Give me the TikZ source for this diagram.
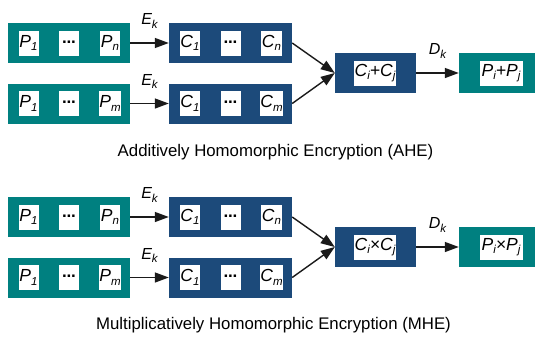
\documentclass[tikz,border=0pt]{standalone}
\usepackage{fontspec}
\setmainfont{Liberation Sans}
\usetikzlibrary{arrows.meta}
\definecolor{tealbox}{HTML}{008080}
\definecolor{navybox}{HTML}{1C4A7A}
\definecolor{inkline}{HTML}{1A1A1A}

% lowered subscript in running italic text
\newcommand\lo[1]{\raisebox{-3.3pt}{\fontsize{11.5}{11.5}\selectfont #1}}
% three heavy dots
\newcommand\dotrow{\raisebox{2.5pt}{\upshape\bfseries\fontsize{17}{17}\selectfont .\kern-0.3pt.\kern-0.3pt.}}

\begin{document}
\begin{tikzpicture}[x=1pt,y=-1pt,
  plainbox/.style={fill=tealbox, minimum height=40pt, inner sep=0pt},
  cipherbox/.style={fill=navybox, minimum height=40pt, inner sep=0pt},
  cell/.style={fill=white, minimum width=20pt, minimum height=25pt, inner sep=0.5pt,
               font=\fontsize{17.5}{17.5}\selectfont\itshape},
  flow/.style={line width=1.4pt, draw=inkline,
               -{Triangle[length=14pt,width=10pt]}},
  keylabel/.style={font=\fontsize{16}{16}\selectfont\itshape, inner sep=0pt},
  caption/.style={font=\fontsize{16.8}{16.8}\selectfont, inner sep=0pt}
]
\useasboundingbox (0,0) rectangle (536,340);

% ---------------- additive scheme ----------------
\node[plainbox, minimum width=122pt] (ap) at (69,43) {};
\node[cell] (ap1) at (28.5,43) {P\lo{1}};
\node[cell] (apd) at (69,43) {\dotrow};
\node[cell] (apn) at (110,43) {P\lo{n}};

\node[cipherbox, minimum width=123pt] (ac) at (230.5,43) {};
\node[cell] (ac1) at (190,43) {C\lo{1}};
\node[cell] (acd) at (230.5,43) {\dotrow};
\node[cell] (acn) at (271.5,43) {C\lo{n}};

\node[plainbox, minimum width=122pt] (aq) at (69,103.5) {};
\node[cell] (aq1) at (28.5,103.5) {P\lo{1}};
\node[cell] (aqd) at (69,103.5) {\dotrow};
\node[cell] (aqm) at (110,103.5) {P\lo{m}};

\node[cipherbox, minimum width=123pt] (ad) at (230.5,103.5) {};
\node[cell] (ad1) at (190,103.5) {C\lo{1}};
\node[cell] (add) at (230.5,103.5) {\dotrow};
\node[cell] (adm) at (271.5,103.5) {C\lo{m}};

\node[cipherbox, minimum width=81pt] (asum) at (375.5,73) {};
\node[cell, minimum width=42pt] (asumt) at (375,73) {C\lo{i}+C\lo{j}};

\node[plainbox, minimum width=76pt] (ares) at (497,73) {};
\node[cell, minimum width=43pt] (arest) at (501,73) {P\lo{i}+P\lo{j}};

\draw[flow] (ap) -- node[keylabel, midway, yshift=22pt] {E\lo{k}} (ac);
\draw[flow] (aq) -- node[keylabel, midway, yshift=22pt] {E\lo{k}} (ad);
\draw[flow] (ac.east) -- (asum.west);
\draw[flow] (ad.east) -- (asum.west);
\draw[flow] (asum) -- node[keylabel, midway, yshift=22pt] {D\lo{k}} (ares);

\node[caption] (ahe) at (275.5,152) {Additively Homomorphic Encryption (AHE)};

% ---------------- multiplicative scheme ----------------
\node[plainbox, minimum width=122pt] (mp) at (69,217) {};
\node[cell] (mp1) at (28.5,217) {P\lo{1}};
\node[cell] (mpd) at (69,217) {\dotrow};
\node[cell] (mpn) at (110,217) {P\lo{n}};

\node[cipherbox, minimum width=123pt] (mc) at (230.5,217) {};
\node[cell] (mc1) at (190,217) {C\lo{1}};
\node[cell] (mcd) at (230.5,217) {\dotrow};
\node[cell] (mcn) at (271.5,217) {C\lo{n}};

\node[plainbox, minimum width=122pt] (mq) at (69,277.5) {};
\node[cell] (mq1) at (28.5,277.5) {P\lo{1}};
\node[cell] (mqd) at (69,277.5) {\dotrow};
\node[cell] (mqm) at (110,277.5) {P\lo{m}};

\node[cipherbox, minimum width=123pt] (md) at (230.5,277.5) {};
\node[cell] (md1) at (190,277.5) {C\lo{1}};
\node[cell] (mdd) at (230.5,277.5) {\dotrow};
\node[cell] (mdm) at (271.5,277.5) {C\lo{m}};

\node[cipherbox, minimum width=81pt] (mprod) at (375.5,247) {};
\node[cell, minimum width=42pt] (mprodt) at (375,247) {C\lo{i}×C\lo{j}};

\node[plainbox, minimum width=76pt] (mres) at (497,247) {};
\node[cell, minimum width=43pt] (mrest) at (501,247) {P\lo{i}×P\lo{j}};

\draw[flow] (mp) -- node[keylabel, midway, yshift=22pt] {E\lo{k}} (mc);
\draw[flow] (mq) -- node[keylabel, midway, yshift=22pt] {E\lo{k}} (md);
\draw[flow] (mc.east) -- (mprod.west);
\draw[flow] (md.east) -- (mprod.west);
\draw[flow] (mprod) -- node[keylabel, midway, yshift=22pt] {D\lo{k}} (mres);

\node[caption] (mhe) at (273.5,325) {Multiplicatively Homomorphic Encryption (MHE)};
\end{tikzpicture}
\end{document}
